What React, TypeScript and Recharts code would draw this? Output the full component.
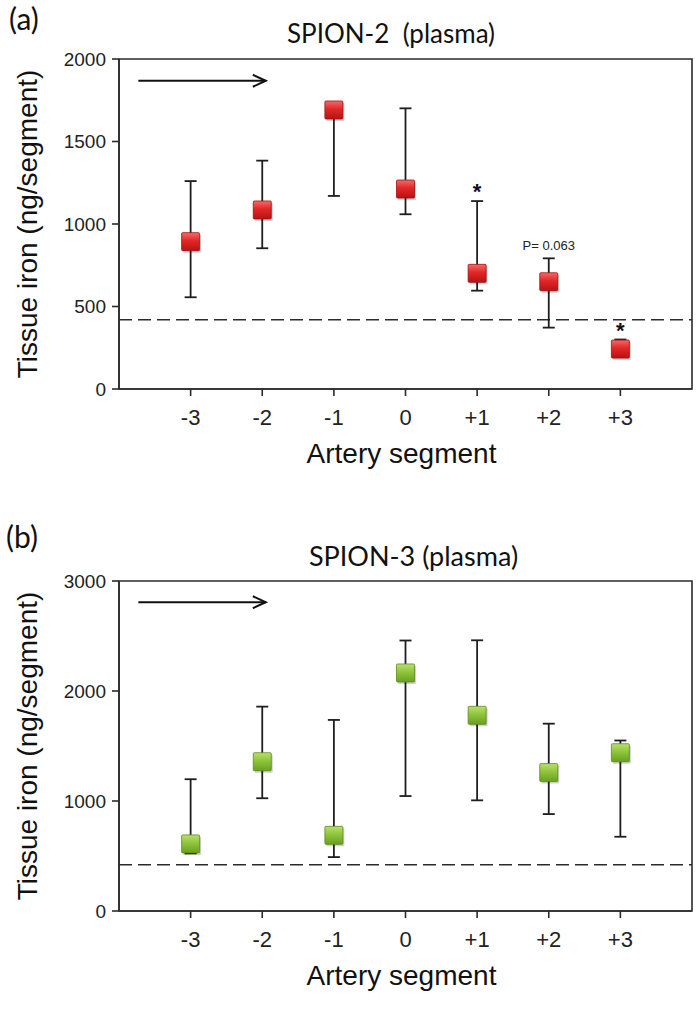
import { ScatterChart, Scatter, XAxis, YAxis, ErrorBar, ReferenceLine, ReferenceArea, ReferenceDot } from "recharts";

const segments = ["-3", "-2", "-1", "0", "+1", "+2", "+3"];
const segPos = [1, 2, 3, 4, 5, 6, 7];

// SPION-2 (plasma): mean, upper and lower end of the error bar
const spion2Mean = [893, 1085, 1691, 1212, 701, 650, 242];
const spion2High = [1260, 1384, 1691, 1701, 1139, 792, 300];
const spion2Low = [556, 853, 1170, 1059, 596, 372, 242];

// SPION-3 (plasma)
const spion3Mean = [610, 1357, 688, 2164, 1779, 1258, 1439];
const spion3High = [1198, 1858, 1737, 2459, 2461, 1703, 1550];
const spion3Low = [524, 1025, 490, 1045, 1006, 881, 675];

const baseline = 420;
const yTicksA = [0, 500, 1000, 1500, 2000];
const yTicksB = [0, 1000, 2000, 3000];

const AXIS = "#2b2b2b";
const SANS = "'Liberation Sans', Arial, sans-serif";
const TITLE_FONT = "Lato, 'Open Sans', sans-serif";

const toRows = (mean: number[], high: number[], low: number[]) =>
  mean.map((m, i) => ({ x: segPos[i], y: m, err: [m - low[i], high[i] - m] }));

const squareShape = (grad: string, edge: string) => (p: any) => {
  const s = 18;
  return (
    <g>
      <rect x={p.cx - s / 2 + 1.5} y={p.cy - s / 2 + 2} width={s} height={s} fill="rgba(0,0,0,0.18)" rx={1} />
      <rect x={p.cx - s / 2} y={p.cy - s / 2} width={s} height={s} fill={`url(#${grad})`} stroke={edge} strokeWidth={0.8} rx={1} />
    </g>
  );
};

const arrowShape = (p: any) => {
  const { x1, y1, x2, y2 } = p;
  return (
    <g>
      <line x1={x1} y1={y1} x2={x2} y2={y2} stroke="#111" strokeWidth={2} />
      <polyline points={`${x2 - 13},${y2 - 6} ${x2},${y2} ${x2 - 13},${y2 + 6}`} fill="none" stroke="#111" strokeWidth={2} />
    </g>
  );
};

type PanelProps = {
  rows: { x: number; y: number; err: number[] }[];
  yMax: number;
  yTicks: number[];
  arrowY: number;
  grad: string;
  edge: string;
  height: number;
  children?: any;
};

function Panel({ rows, yMax, yTicks, arrowY, grad, edge, height, children }: PanelProps) {
  return (
    <ScatterChart width={699} height={height} margin={{ top: height - 441, right: 7, bottom: 21, left: 14 }}>
      <XAxis
        type="number"
        dataKey="x"
        domain={[0, 8]}
        ticks={segPos}
        tickFormatter={(v) => segments[v - 1]}
        height={90}
        tickSize={7}
        tickMargin={13}
        stroke={AXIS}
        strokeWidth={1.6}
        tick={{ fill: "#222", fontSize: 22, fontFamily: SANS }}
        label={{
          content: (lp: any) => {
            const vb = lp.viewBox;
            return (
              <text x={vb.x + vb.width / 2 - 4} y={vb.y + 74} textAnchor="middle" fontSize={28} fontFamily={SANS} fill="#111">
                Artery segment
              </text>
            );
          },
        }}
      />
      <YAxis
        type="number"
        dataKey="y"
        domain={[0, yMax]}
        ticks={yTicks}
        width={105}
        tickSize={7}
        tickMargin={6}
        stroke={AXIS}
        strokeWidth={1.6}
        tick={{ fill: "#222", fontSize: 19, fontFamily: SANS }}
        label={{
          content: (lp: any) => {
            const vb = lp.viewBox;
            const cy = vb.y + vb.height / 2;
            return (
              <text x={37} y={cy} transform={`rotate(-90 37 ${cy})`} textAnchor="middle" fontSize={28} fontFamily={SANS} fill="#111">
                Tissue iron (ng/segment)
              </text>
            );
          },
        }}
      />
      <ReferenceArea x1={0} x2={8} y1={0} y2={yMax} fill="none" stroke={AXIS} strokeWidth={1.6} />
      <ReferenceLine y={baseline} stroke={AXIS} strokeWidth={1.6} strokeDasharray="13 6" />
      <ReferenceLine
        segment={[
          { x: 0.27, y: arrowY },
          { x: 2.05, y: arrowY },
        ]}
        shape={arrowShape}
      />
      <Scatter data={rows} isAnimationActive={false} shape={squareShape(grad, edge)}>
        <ErrorBar dataKey="err" direction="y" width={6} stroke="#1e1e1e" strokeWidth={1.8} />
      </Scatter>
      {children}
    </ScatterChart>
  );
}

const starLabel = (p: any) => {
  const vb = p.viewBox;
  return (
    <text x={vb.cx ?? vb.x} y={(vb.cy ?? vb.y) + 10} textAnchor="middle" fontSize={22} fontWeight="bold" fontFamily={SANS} fill="#111">
      *
    </text>
  );
};

const pLabel = (p: any) => {
  const vb = p.viewBox;
  return (
    <text x={vb.cx ?? vb.x} y={(vb.cy ?? vb.y) + 5} textAnchor="middle" fontSize={13} fontFamily={SANS} fill="#222">
      P= 0.063
    </text>
  );
};

export default function App() {
  const rowsA = toRows(spion2Mean, spion2High, spion2Low);
  const rowsB = toRows(spion3Mean, spion3High, spion3Low);
  return (
    <div style={{ position: "relative", width: 699, height: 1022, background: "#fff" }}>
      <style>{"body{margin:0}"}</style>
      <svg width={0} height={0} style={{ position: "absolute" }}>
        <defs>
          <linearGradient id="redSq" x1="0" y1="0" x2="0" y2="1">
            <stop offset="0" stopColor="#f36a6a" />
            <stop offset="0.45" stopColor="#e32626" />
            <stop offset="1" stopColor="#b51313" />
          </linearGradient>
          <linearGradient id="greenSq" x1="0" y1="0" x2="0" y2="1">
            <stop offset="0" stopColor="#b9e06e" />
            <stop offset="0.45" stopColor="#8fc43c" />
            <stop offset="1" stopColor="#68a020" />
          </linearGradient>
        </defs>
      </svg>

      <div style={{ position: "absolute", left: 0, top: 0 }}>
        <Panel rows={rowsA} yMax={2000} yTicks={yTicksA} arrowY={1868} grad="redSq" edge="#a01010" height={500}>
          <ReferenceDot x={5} y={1215} r={0} label={{ content: starLabel }} />
          <ReferenceDot x={7} y={372} r={0} label={{ content: starLabel }} />
          <ReferenceDot x={6} y={870} r={0} label={{ content: pLabel }} />
        </Panel>
      </div>
      <div style={{ position: "absolute", left: 0, top: 500 }}>
        <Panel rows={rowsB} yMax={3000} yTicks={yTicksB} arrowY={2807} grad="greenSq" edge="#5a8a1a" height={522} />
      </div>

      <div style={{ position: "absolute", left: 9, top: 0, fontFamily: TITLE_FONT, fontSize: 30, color: "#111" }}>(a)</div>
      <div style={{ position: "absolute", left: 0, width: 782, top: 17, textAlign: "center", fontFamily: TITLE_FONT, fontSize: 26, color: "#111", whiteSpace: "pre" }}>
        SPION-2  (plasma)
      </div>
      <div style={{ position: "absolute", left: 6, top: 518, fontFamily: TITLE_FONT, fontSize: 30, color: "#111" }}>(b)</div>
      <div style={{ position: "absolute", left: 0, width: 827, top: 539, textAlign: "center", fontFamily: TITLE_FONT, fontSize: 27, color: "#111", whiteSpace: "pre" }}>
        SPION-3 (plasma)
      </div>
    </div>
  );
}
